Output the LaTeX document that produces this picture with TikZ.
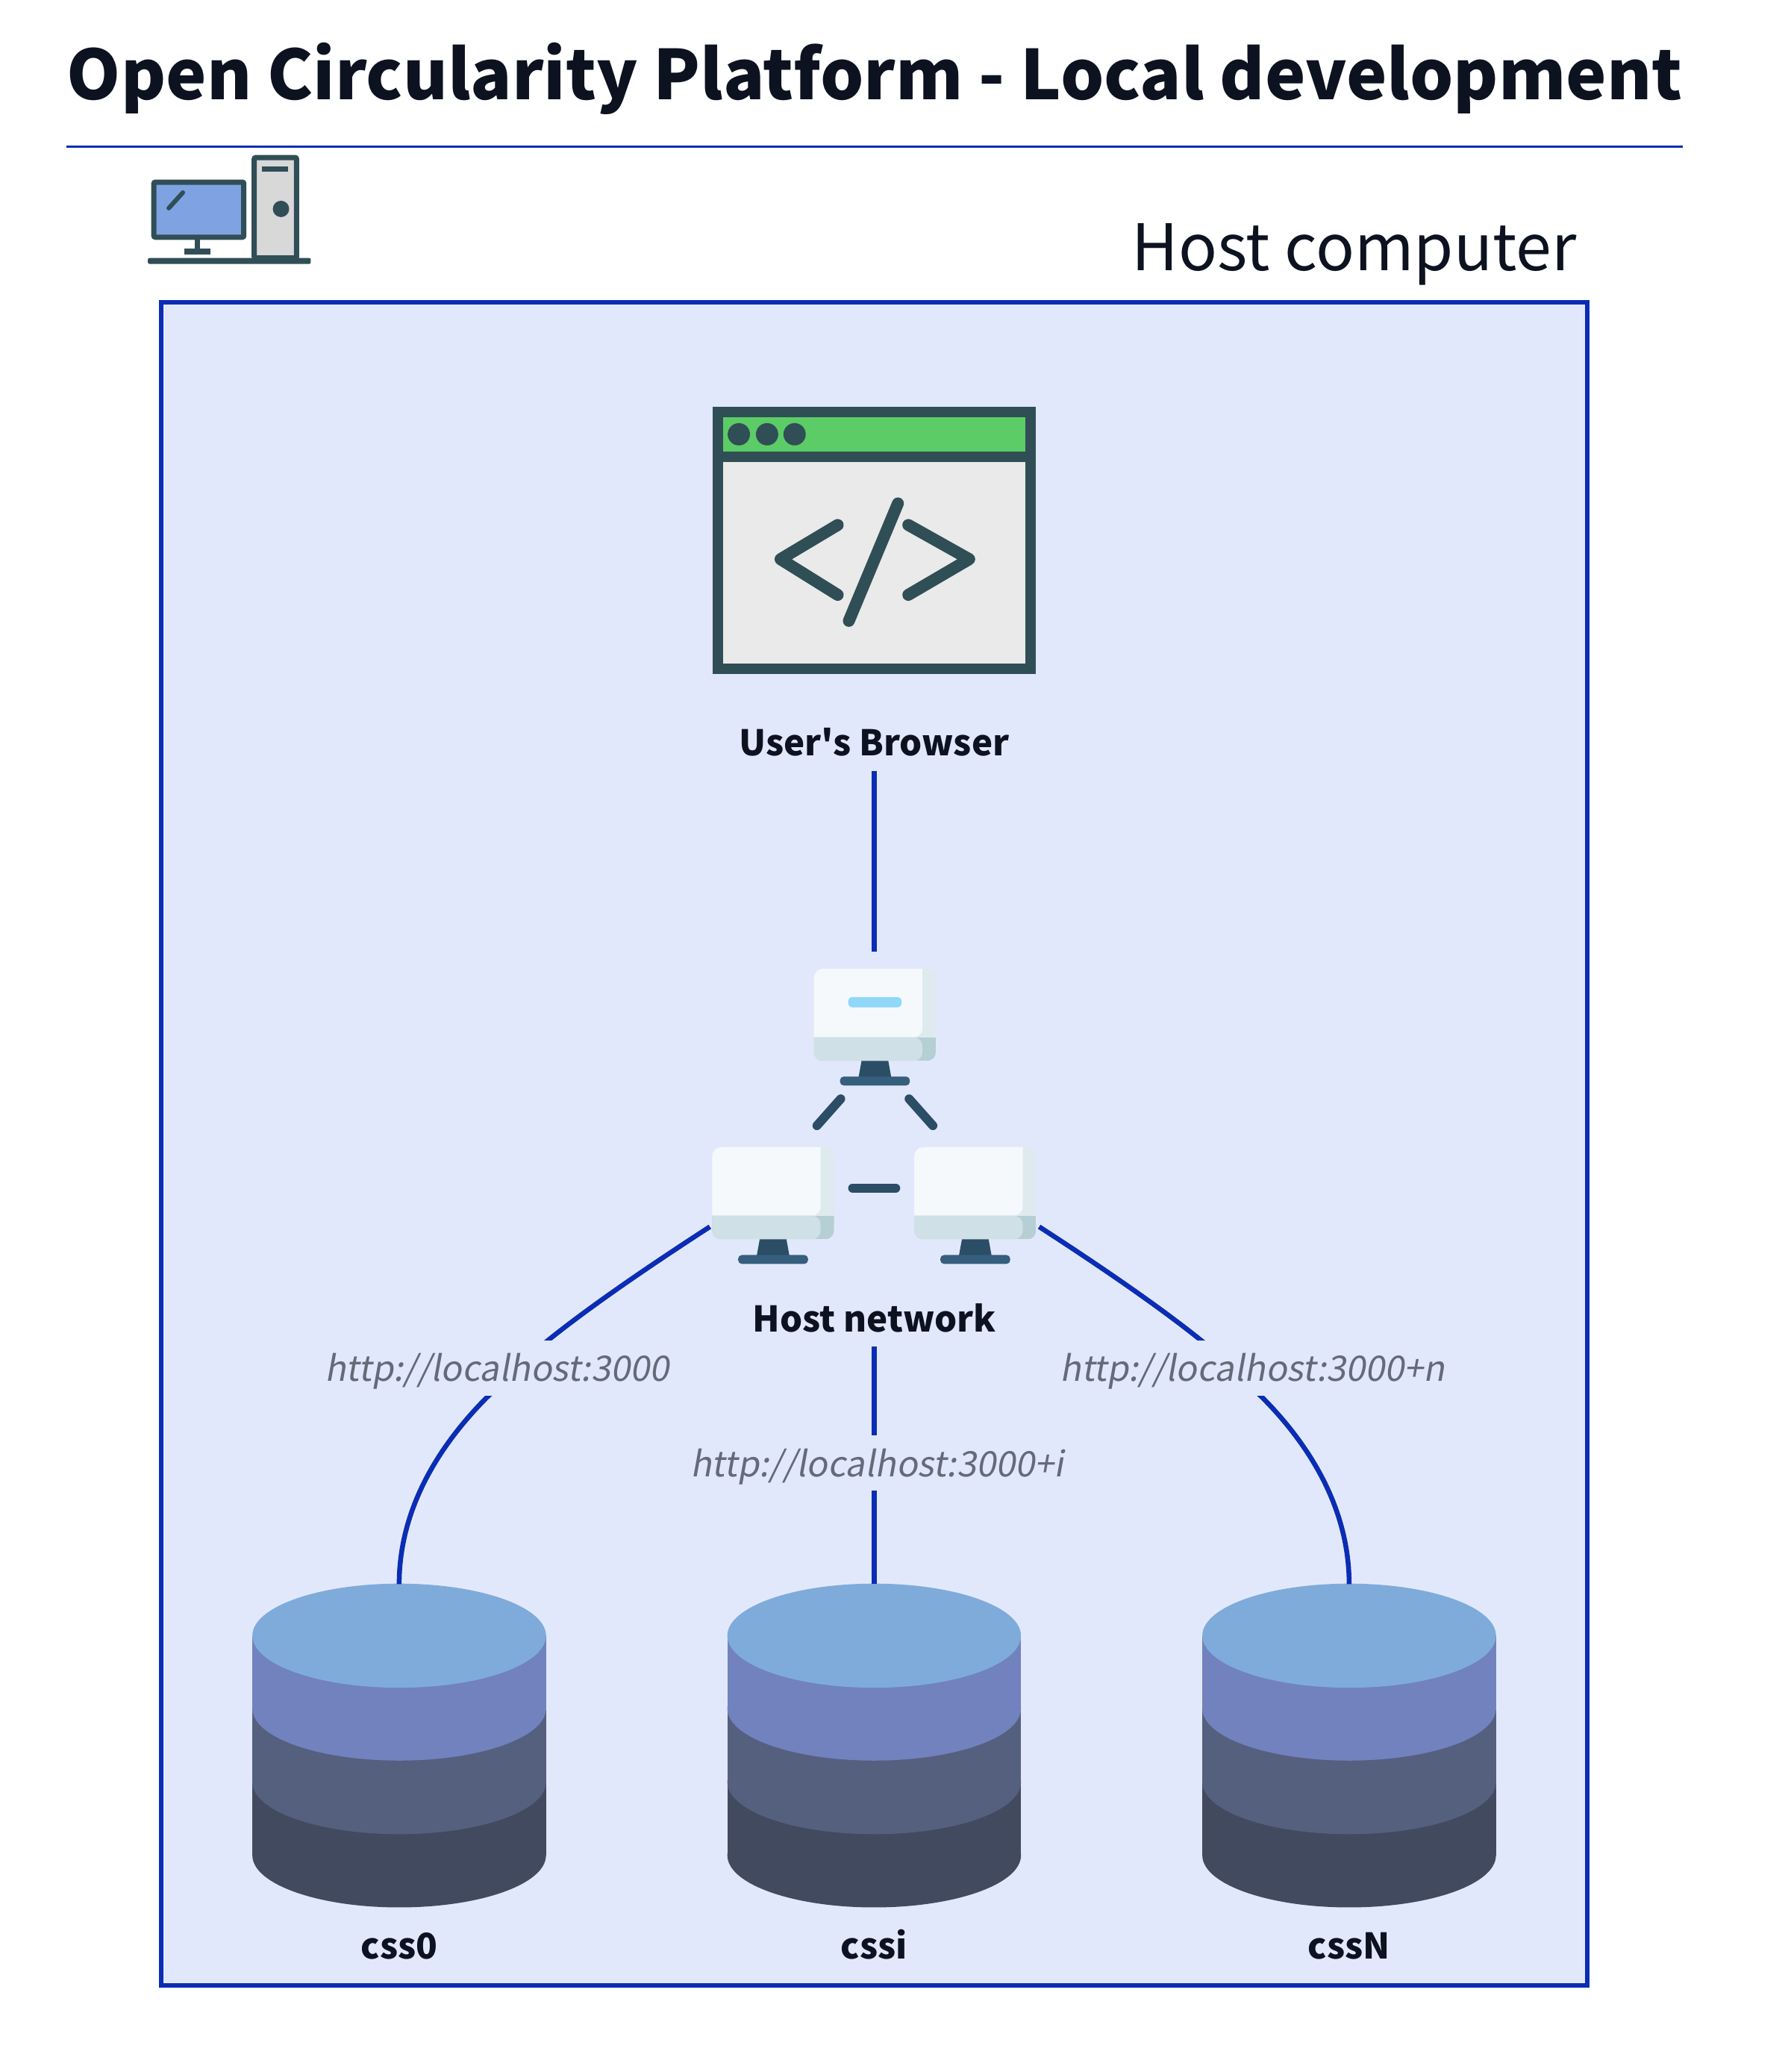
\documentclass[tikz,border=0pt]{standalone}
\usepackage{fontspec}
\setmainfont{Noto Sans CJK SC}[Ligatures=TeXOff]
\newfontfamily\urlfont[FakeSlant=0.18,Ligatures=TeXOff]{Noto Sans CJK SC}
\usetikzlibrary{positioning}
\definecolor{linkblue}{HTML}{0A2DB4}
\definecolor{framefill}{HTML}{E2E8FB}
\definecolor{inkdark}{HTML}{0D1220}
\definecolor{urlgrey}{HTML}{646A78}
\definecolor{slate}{HTML}{304E56}
\definecolor{standdark}{HTML}{2B4D66}
\definecolor{standbase}{HTML}{365E7D}
\tikzstyle{titletxt}=[inner sep=0pt,font=\fontsize{91.8}{96}\selectfont\bfseries,text=inkdark]
\tikzstyle{hosttxt}=[inner sep=0pt,font=\fontsize{86}{90}\selectfont,text=inkdark]
\tikzstyle{boldtxt}=[inner xsep=10pt,inner ysep=10pt,text height=36pt,text depth=10pt,font=\fontsize{47.4}{52}\selectfont\bfseries,text=inkdark]
\tikzstyle{urltxt}=[fill=framefill,inner xsep=6pt,inner ysep=14pt,text height=41pt,text depth=5pt,font=\fontsize{47}{50}\selectfont\urlfont,text=urlgrey]
\tikzstyle{link}=[draw=linkblue,line width=6.5pt]
\tikzstyle{dbbox}=[minimum width=393pt,minimum height=433pt,inner sep=0pt,outer sep=0pt]
\tikzset{
  monitor/.pic={
    \begin{scope}
      \clip[rounded corners=12pt] (0,0) rectangle (164,124);
      \fill[fill={rgb,255:red,223;green,234;blue,239}] (0,0) rectangle (164,92);
      \fill[fill={rgb,255:red,181;green,207;blue,212}] (0,92) rectangle (164,124);
      \fill[fill={rgb,255:red,245;green,249;blue,251},rounded corners=12pt] (-20,-20) rectangle (146,92);
      \fill[fill={rgb,255:red,207;green,224;blue,230},rounded corners=12pt] (-20,92) -- (146,92) -- (146,124) -- (-20,124) -- cycle;
    \end{scope}
    \fill[standdark] (64,124) -- (100,124) -- (104,146) -- (60,146) -- cycle;
    \fill[standbase,rounded corners=5pt] (35,145) rectangle (129,157);
  },
  dbstack/.pic={
    \foreach \cc/\yy in {414A5F/147.5,55607F/49,7182BE/-50}{
      \definecolor{dbcol}{HTML}{\cc}
      \fill[dbcol] (-197.5,\yy-98) rectangle (197.5,\yy);
      \fill[dbcol] (0,\yy) ellipse [x radius=197.5,y radius=70];
    }
    \fill[fill={rgb,255:red,127;green,171;blue,219}] (0,-148) ellipse [x radius=197.5,y radius=70];
  }
}
\begin{document}
\begin{tikzpicture}[x=.9961pt,y=-.9961pt]
  \useasboundingbox (0,0) rectangle (2409.4,2786.9);

  % header
  \node[titletxt,anchor=west] (title) at (90,106) {Open Circularity Platform - Local development};
  \draw[linkblue,line width=3pt] (89,197) -- (2264,197);
  \node[hosttxt,anchor=east] (host) at (2121,342) {Host computer};

  % host frame
  \draw[fill=framefill,draw=linkblue,line width=6pt] (217,407) rectangle (2135,2670);

  % computer icon
  \fill[slate,rounded corners=2pt] (199,347) rectangle (418,355);
  \draw[slate,fill={rgb,255:red,127;green,163;blue,226},line width=7pt,rounded corners=2pt] (207,245) rectangle (328,319);
  \draw[slate,line width=6pt,line cap=round] (227,280) -- (246,259);
  \fill[slate] (262,322) rectangle (269,335);
  \fill[slate] (248,334) rectangle (283,342);
  \draw[slate,fill={rgb,255:red,216;green,216;blue,216},line width=7pt,rounded corners=2pt] (342,212) rectangle (399,347);
  \fill[slate] (352,224) rectangle (388,231);
  \fill[slate] (378,281) circle (11);

  % browser icon
  \node[minimum width=432pt,minimum height=358pt,inner sep=0pt] (browser) at (1176,727) {};
  \begin{scope}[shift={(browser.north west)}]
    \fill[slate] (0,0) rectangle (434,359);
    \fill[fill={rgb,255:red,92;green,204;blue,102}] (14,14) rectangle (420,60);
    \fill[fill={rgb,255:red,234;green,234;blue,234}] (14,74) rectangle (420,345);
    \foreach \xx in {35,73,110}{\fill[slate] (\xx,37) circle (15);}
    \draw[slate,line width=16pt,line cap=round,line join=round] (168,159) -- (91,205) -- (168,253);
    \draw[slate,line width=16pt,line cap=round,line join=round] (263,159) -- (345,205) -- (263,253);
    \draw[slate,line width=16pt,line cap=round] (249,130) -- (183,288);
  \end{scope}
  \node[boldtxt,below=63pt of browser] (browserlbl) {User's Browser};

  % network icon
  \node[minimum width=440pt,minimum height=418pt,inner sep=0pt] (net) at (1176,1490) {};
  \coordinate (netL) at (955,1650);
  \coordinate (netR) at (1398,1650);
  \pic at (1095,1303) {monitor};
  \pic at (958,1543) {monitor};
  \pic at (1230,1543) {monitor};
  \fill[fill={rgb,255:red,144;green,216;blue,250},rounded corners=6pt] (1141,1341) rectangle (1213,1355);
  \draw[standdark,line width=12pt,line cap=round] (1131,1478) -- (1099,1514);
  \draw[standdark,line width=12pt,line cap=round] (1223,1478) -- (1255,1514);
  \draw[standdark,line width=12pt,line cap=round] (1147,1598) -- (1205,1598);
  \node[boldtxt] (netlbl) at (1176,1778) {Host network};

  % databases
  \node[dbbox] (dbi) at (1176,2348) {};
  \node[dbbox,left=243.5pt of dbi] (db0) {};
  \node[dbbox,right=243.5pt of dbi] (dbN) {};
  \foreach \dd in {db0,dbi,dbN}{\pic at (\dd) {dbstack};}
  \node[boldtxt,below=23pt of db0] (lbl0) {css0};
  \node[boldtxt,below=23pt of dbi] (lbli) {cssi};
  \node[boldtxt,below=23pt of dbN] (lblN) {cssN};

  % connections
  \path[link] (browserlbl.south) edge (net.north);
  \path[link] (netlbl.south) edge (dbi.north);
  \draw[link] (netL) .. controls (870,1705) and (790,1760) .. (734.5,1805) -- (654.5,1880) .. controls (590,1945) and (537,2030) .. (db0.north);
  \draw[link] (netR) .. controls (1483,1705) and (1563,1760) .. (1618.5,1805) -- (1698.5,1880) .. controls (1763,1945) and (1815,2030) .. (dbN.north);

  % urls
  \node[urltxt] (url0) at (668.5,1840) {http://localhost:3000};
  \node[urltxt] (urli) at (1180,1968) {http://localhost:3000+i};
  \node[urltxt] (urlN) at (1685,1840) {http://localhost:3000+n};
\end{tikzpicture}
\end{document}
